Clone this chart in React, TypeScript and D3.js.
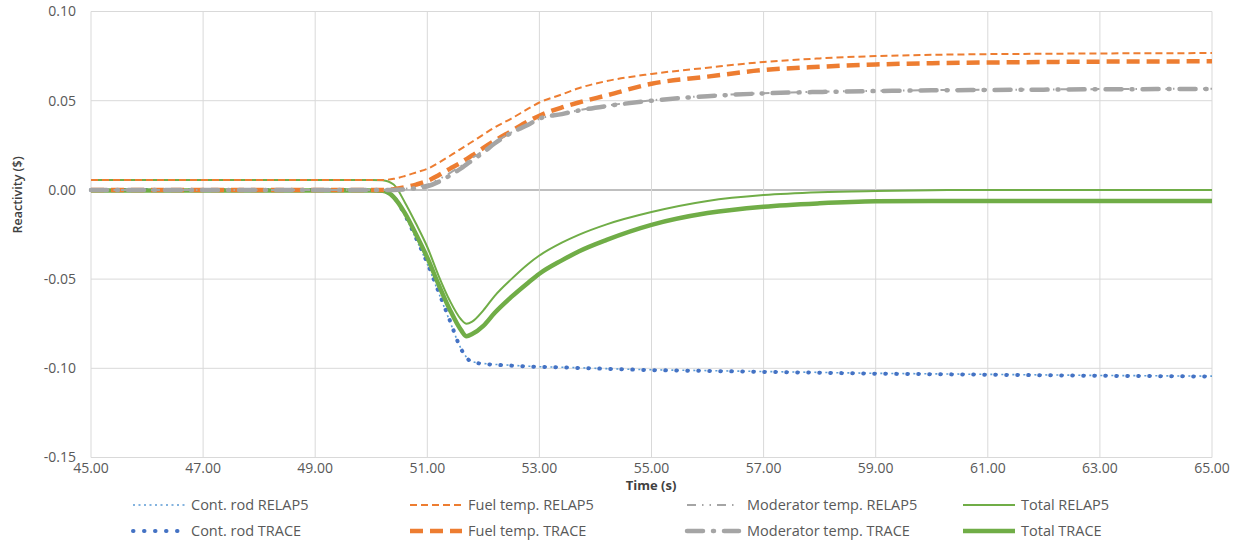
import React from "react";
import * as d3 from "d3";

const times = [45, 50.0, 50.2, 50.4, 50.6, 50.8, 51.0, 51.2, 51.4, 51.6, 51.7, 51.8, 52.0, 52.2, 52.5, 52.8, 53.0, 53.4, 53.7, 54.2, 55, 56, 57, 58, 59, 60, 61, 62, 63, 64, 65];

const contRodRelap = [0, 0, -0.0005, -0.0042, -0.0145, -0.0275, -0.0415, -0.0575, -0.0735, -0.0888, -0.0938, -0.0962, -0.0973, -0.0978, -0.0983, -0.0988, -0.0991, -0.0994, -0.0997, -0.1002, -0.1008, -0.1013, -0.1018, -0.1023, -0.1028, -0.1031, -0.1034, -0.1037, -0.104, -0.1042, -0.1044];
const contRodTrace = [0, 0, -0.0005, -0.004, -0.014, -0.027, -0.041, -0.057, -0.073, -0.089, -0.094, -0.0965, -0.0975, -0.098, -0.0985, -0.099, -0.0992, -0.0995, -0.0998, -0.1003, -0.101, -0.1015, -0.102, -0.1025, -0.103, -0.1033, -0.1036, -0.1039, -0.1042, -0.1044, -0.1046];
const fuelRelap = [0.0056, 0.0056, 0.0056, 0.0062, 0.0078, 0.0098, 0.0118, 0.0152, 0.019, 0.023, 0.025, 0.027, 0.031, 0.035, 0.04, 0.0455, 0.049, 0.0535, 0.057, 0.061, 0.065, 0.0685, 0.0717, 0.0737, 0.075, 0.0757, 0.0761, 0.0763, 0.0765, 0.0766, 0.0767];
const fuelTrace = [0, 0, 0, 0.0004, 0.0015, 0.003, 0.005, 0.0082, 0.0118, 0.0153, 0.0173, 0.0193, 0.0235, 0.0275, 0.033, 0.0385, 0.0416, 0.0462, 0.049, 0.053, 0.0595, 0.0635, 0.0672, 0.069, 0.0703, 0.071, 0.0714, 0.0717, 0.0719, 0.072, 0.0721];
const modRelap = [0, 0, 0, 0, 0.0006, 0.0016, 0.003, 0.0058, 0.0094, 0.0134, 0.0156, 0.0178, 0.022, 0.0265, 0.0322, 0.0366, 0.0398, 0.0426, 0.0446, 0.0472, 0.0502, 0.0527, 0.0542, 0.055, 0.0555, 0.0559, 0.0561, 0.0563, 0.0565, 0.0566, 0.0567];
const modTrace = [0, 0, 0, 0, 0.0003, 0.001, 0.002, 0.0045, 0.008, 0.012, 0.0143, 0.0166, 0.021, 0.026, 0.032, 0.0365, 0.04, 0.0425, 0.0445, 0.047, 0.05, 0.0525, 0.0541, 0.0549, 0.0554, 0.0558, 0.056, 0.0562, 0.0564, 0.0565, 0.0566];
const totalRelap = [0.0056, 0.0056, 0.0054, 0.003, -0.007, -0.019, -0.032, -0.048, -0.062, -0.0725, -0.075, -0.0738, -0.0675, -0.0595, -0.05, -0.0415, -0.0368, -0.0296, -0.0252, -0.0193, -0.0124, -0.0062, -0.0029, -0.0013, -0.0006, -0.0002, 0, 0, 0, 0, 0];
const totalTrace = [-0.0003, -0.0003, -0.0005, -0.004, -0.013, -0.025, -0.038, -0.053, -0.067, -0.0785, -0.082, -0.0808, -0.0762, -0.069, -0.06, -0.052, -0.047, -0.0395, -0.0345, -0.028, -0.0196, -0.013, -0.0094, -0.0075, -0.0064, -0.0062, -0.0062, -0.0062, -0.0062, -0.0062, -0.0062];

const xTicks = [45, 47, 49, 51, 53, 55, 57, 59, 61, 63, 65];
const yTicks = [-0.15, -0.1, -0.05, 0, 0.05, 0.1];

const seriesNames = ["Cont. rod RELAP5", "Fuel temp. RELAP5", "Moderator temp. RELAP5", "Total RELAP5", "Cont. rod TRACE", "Fuel temp. TRACE", "Moderator temp. TRACE", "Total TRACE"];

type Style = { color: string; width: number; dash?: string; cap?: string };

const styles: Record<string, Style> = {
  "Cont. rod RELAP5": { color: "#5b9bd5", width: 1.6, dash: "2 3.5" },
  "Cont. rod TRACE": { color: "#4472c4", width: 4, dash: "0.5 10.5", cap: "round" },
  "Fuel temp. RELAP5": { color: "#ed7d31", width: 2, dash: "7 4" },
  "Fuel temp. TRACE": { color: "#ed7d31", width: 4.5, dash: "13 7" },
  "Moderator temp. RELAP5": { color: "#a5a5a5", width: 2, dash: "9 6 1.5 6 1.5 6" },
  "Moderator temp. TRACE": { color: "#a5a5a5", width: 4.5, dash: "16 10 1 10", cap: "round" },
  "Total RELAP5": { color: "#70ad47", width: 2 },
  "Total TRACE": { color: "#70ad47", width: 4.5 },
};

const dataByName: Record<string, number[]> = {
  "Cont. rod RELAP5": contRodRelap,
  "Cont. rod TRACE": contRodTrace,
  "Fuel temp. RELAP5": fuelRelap,
  "Fuel temp. TRACE": fuelTrace,
  "Moderator temp. RELAP5": modRelap,
  "Moderator temp. TRACE": modTrace,
  "Total RELAP5": totalRelap,
  "Total TRACE": totalTrace,
};

const drawOrder = ["Cont. rod RELAP5", "Cont. rod TRACE", "Total TRACE", "Total RELAP5", "Fuel temp. RELAP5", "Fuel temp. TRACE", "Moderator temp. RELAP5", "Moderator temp. TRACE"];

const W = 1251;
const H = 544;
const FONT = "'Open Sans', sans-serif";
const fmt = (v: number) => d3.format(".2f")(v).replace("\u2212", "-");

export default function App() {
  const x = d3.scaleLinear().domain([45, 65]).range([91, 1212]);
  const y = d3.scaleLinear().domain([-0.15, 0.1]).range([457.5, 11.5]);

  const line = d3
    .line<number>()
    .x((_, i) => x(times[i]))
    .y((d) => y(d))
    .curve(d3.curveMonotoneX);

  const legendX = [133, 410, 687, 963];
  const legendY = [505, 531];

  return (
    <svg width={W} height={H} style={{ position: "absolute", left: 0, top: 0, background: "#fff" }} fontFamily={FONT}>
      <rect width={W} height={H} fill="#fff" />
      {yTicks.map((t) => (
        <line key={"gy" + t} x1={x(45)} x2={x(65)} y1={y(t)} y2={y(t)} stroke={t === 0 ? "#bfbfbf" : "#d9d9d9"} strokeWidth={t === 0 ? 2 : 1} />
      ))}
      {xTicks.map((t) => (
        <line key={"gx" + t} x1={x(t)} x2={x(t)} y1={y(0.1)} y2={y(-0.15)} stroke="#d9d9d9" strokeWidth={1} />
      ))}
      {drawOrder.map((name) => {
        const s = styles[name];
        return (
          <path
            key={name}
            d={line(dataByName[name]) || ""}
            fill="none"
            stroke={s.color}
            strokeWidth={s.width}
            strokeDasharray={s.dash}
            strokeLinecap={(s.cap as any) || "butt"}
            strokeLinejoin="round"
          />
        );
      })}
      {yTicks.map((t) => (
        <text key={"ly" + t} x={76} y={y(t)} dy="0.35em" textAnchor="end" fontSize={14} fill="#595959">
          {fmt(t)}
        </text>
      ))}
      {xTicks.map((t) => (
        <text key={"lx" + t} x={x(t)} y={473} textAnchor="middle" fontSize={14} fill="#595959">
          {fmt(t)}
        </text>
      ))}
      <text x={651} y={490} textAnchor="middle" fontSize={13} fontWeight={700} fill="#404040">
        Time (s)
      </text>
      <text transform={`translate(22,${y(0) + 5}) rotate(-90)`} textAnchor="middle" fontSize={12.5} fontWeight={600} fill="#404040">
        Reactivity ($)
      </text>
      {seriesNames.map((name, i) => {
        const col = i % 4;
        const row = Math.floor(i / 4);
        const s = styles[name];
        const lx = legendX[col];
        const ly = legendY[row];
        return (
          <g key={"lg" + name}>
            <line x1={lx} x2={lx + 52} y1={ly} y2={ly} stroke={s.color} strokeWidth={s.width} strokeDasharray={s.dash} strokeLinecap={(s.cap as any) || "butt"} />
            <text x={lx + (col === 2 ? 60 : 58)} y={ly} dy="0.36em" fontSize={14.5} fill="#595959">
              {name}
            </text>
          </g>
        );
      })}
    </svg>
  );
}
